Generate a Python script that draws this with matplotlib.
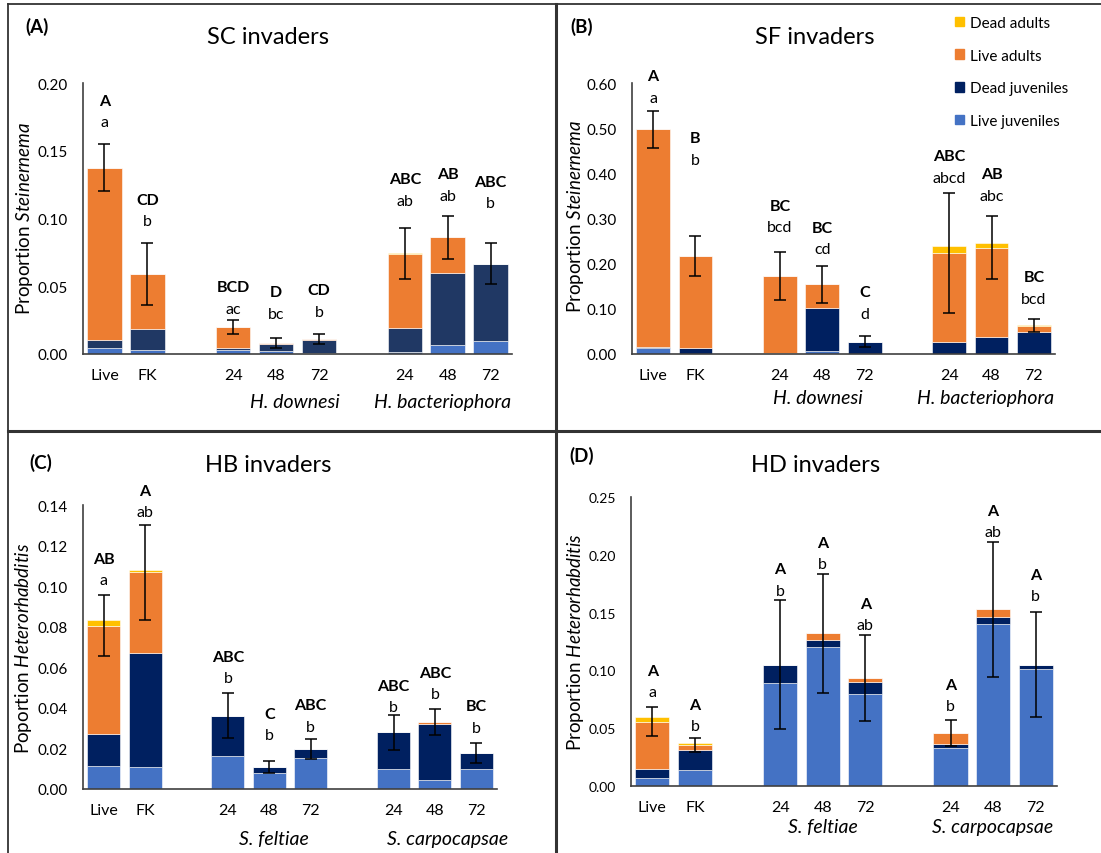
import matplotlib
matplotlib.use('Agg')
import matplotlib.pyplot as plt
from matplotlib.lines import Line2D
from matplotlib.patches import Patch
import numpy as np

plt.rcParams['font.family'] = ['Lato', 'DejaVu Sans']
plt.rcParams['mathtext.fontset'] = 'custom'
plt.rcParams['mathtext.rm'] = 'Lato'
plt.rcParams['mathtext.it'] = 'Lato:italic'

# Excel-style colours
C_LJ = '#4472C4'   # live juveniles
C_DJ = '#002060'   # dead juveniles
C_DJ_A = '#203864'
C_LA = '#ED7D31'   # live adults
C_DA = '#FFC000'   # dead adults

# categories: blanks act as spacers between treatment groups
categories = ['Live', 'FK', '', '24', '48', '72', '', '24', '48', '72']

# --- (A) SC invaders ---
sc_lj = [0.0044, 0.0032, 0.0027, 0.0022, 0.0005, 0.0015, 0.0069, 0.0098]
sc_dj = [0.0059, 0.0150, 0.0015, 0.0052, 0.0098, 0.0174, 0.0531, 0.0568]
sc_la = [0.1273, 0.0410, 0.0157, 0.0007, 0.0007, 0.0551, 0.0262, 0.0]
sc_da = [0.0, 0.0, 0.0, 0.0, 0.0, 0.0007, 0.0, 0.0]
sc_err = [0.0171, 0.0230, 0.0053, 0.0036, 0.0035, 0.0188, 0.0158, 0.0150]
sc_up = ['A', 'CD', 'BCD', 'D', 'CD', 'ABC', 'AB', 'ABC']
sc_low = ['a', 'b', 'ac', 'bc', 'b', 'ab', 'ab', 'b']
sc_lab_y = [0.171, 0.098, 0.0332, 0.0295, 0.031, 0.113, 0.1166, 0.1114]

# --- (B) SF invaders ---
sf_lj = [0.0133, 0.001, 0.001, 0.006, 0.001, 0.001, 0.001, 0.001]
sf_dj = [0.0014, 0.0115, 0.002, 0.0965, 0.0263, 0.0248, 0.0366, 0.047]
sf_la = [0.4828, 0.2042, 0.1695, 0.0515, 0.0, 0.198, 0.198, 0.0147]
sf_da = [0.0, 0.0, 0.0, 0.0, 0.0, 0.016, 0.010, 0.002]
sf_err = [0.0405, 0.045, 0.0535, 0.041, 0.0125, 0.132, 0.069, 0.014]
sf_up = ['A', 'B', 'BC', 'BC', 'C', 'ABC', 'AB', 'BC']
sf_low = ['a', 'b', 'bcd', 'cd', 'd', 'abcd', 'abc', 'bcd']
sf_lab_y = [0.567, 0.430, 0.281, 0.232, 0.0886, 0.390, 0.350, 0.122]

# --- (C) HB invaders ---
hb_lj = [0.0112, 0.011, 0.0161, 0.008, 0.0153, 0.0099, 0.0043, 0.0099]
hb_dj = [0.0157, 0.0562, 0.0200, 0.0027, 0.0044, 0.018, 0.0277, 0.0078]
hb_la = [0.0536, 0.0396, 0.0, 0.0, 0.0, 0.0, 0.0009, 0.0]
hb_da = [0.003, 0.0012, 0.0, 0.0, 0.0, 0.0, 0.0, 0.0]
hb_err = [0.0150, 0.0235, 0.0112, 0.0029, 0.0049, 0.0088, 0.0064, 0.0051]
hb_up = ['AB', 'A', 'ABC', 'C', 'ABC', 'ABC', 'ABC', 'BC']
hb_low = ['a', 'ab', 'b', 'b', 'b', 'b', 'b', 'b']
hb_lab_y = [0.103, 0.1365, 0.0547, 0.0266, 0.0306, 0.0404, 0.0468, 0.0301]

# --- (D) HD invaders ---
hd_lj = [0.0072, 0.0138, 0.0894, 0.120, 0.0793, 0.0329, 0.140, 0.101]
hd_dj = [0.0072, 0.0171, 0.0156, 0.006, 0.0104, 0.0032, 0.006, 0.004]
hd_la = [0.0413, 0.0048, 0.0, 0.006, 0.0034, 0.0095, 0.007, 0.0]
hd_da = [0.0037, 0.0018, 0.0, 0.0, 0.0005, 0.0005, 0.0, 0.0]
hd_err = [0.0127, 0.0062, 0.0555, 0.0517, 0.0373, 0.0114, 0.0584, 0.0453]
hd_up = ['A'] * 8
hd_low = ['a', 'b', 'b', 'b', 'ab', 'b', 'ab', 'b']
hd_lab_y = [0.081, 0.0516, 0.169, 0.192, 0.139, 0.069, 0.2195, 0.164]

W, H = 1101, 854


def fx(px):
    return px / W


def fy(py):
    return 1 - py / H


def draw_panel(ax, lj, dj, la, da, err, up, low, lab_y, ymax, ystep,
               groups, group_x, group_dy, dj_color=C_DJ, ysize=11, ypad=11):
    pos = np.array([i for i, c in enumerate(categories) if c])
    labels = [c for c in categories if c]
    lj, dj, la, da = map(np.array, (lj, dj, la, da))
    kw = dict(width=0.8, edgecolor='white', linewidth=0.4)
    ax.bar(pos, lj, color=C_LJ, **kw)
    ax.bar(pos, dj, bottom=lj, color=dj_color, **kw)
    ax.bar(pos, la, bottom=lj + dj, color=C_LA, **kw)
    ax.bar(pos, da, bottom=lj + dj + la, color=C_DA, **kw)
    ax.errorbar(pos, lj + dj + la, yerr=err, fmt='none', ecolor='black',
                elinewidth=1.1, capsize=4, capthick=1.1)
    for x, u, l, y in zip(pos, up, low, lab_y):
        ax.text(x, y, l, ha='center', va='center', fontsize=11.5)
        ax.annotate(u, xy=(x, y), xytext=(0, 15.5), textcoords='offset points',
                    ha='center', va='center', fontsize=11.5, fontweight='bold')
    ax.set_xlim(-0.5, len(categories) - 0.5)
    ax.set_ylim(0, ymax)
    ax.set_yticks(np.arange(0, ymax + ystep / 2, ystep))
    ax.yaxis.set_major_formatter(plt.FormatStrFormatter('%.2f'))
    ax.set_xticks(pos)
    ax.set_xticklabels(labels)
    ax.tick_params(axis='x', length=0, pad=10, labelsize=11.5)
    ax.tick_params(axis='y', length=0, pad=ypad, labelsize=ysize)
    for s in ['top', 'right']:
        ax.spines[s].set_visible(False)
    ax.spines['left'].set_color('#404040')
    ax.spines['bottom'].set_color('#404040')
    ax.spines['left'].set_linewidth(1.2)
    ax.spines['bottom'].set_linewidth(1.2)
    for g, gx in zip(groups, group_x):
        ax.annotate(g, xy=(gx, 0), xycoords=('data', 'axes fraction'),
                    xytext=(0, -group_dy), textcoords='offset points',
                    ha='center', va='center', fontsize=14, style='italic')


fig = plt.figure(figsize=(W / 100, H / 100), dpi=100)

axA = fig.add_axes([fx(83), fy(355), fx(512 - 83), (355 - 84) / H])
axB = fig.add_axes([fx(632), fy(355), fx(1055 - 632), (355 - 84) / H])
axC = fig.add_axes([fx(83), fy(790), fx(497 - 83), (790 - 506) / H])
axD = fig.add_axes([fx(631), fy(787), fx(1057 - 631), (787 - 498) / H])

hd_groups = ['H. downesi', 'H. bacteriophora']
s_groups = ['S. feltiae', 'S. carpocapsae']

draw_panel(axA, sc_lj, sc_dj, sc_la, sc_da, sc_err, sc_up, sc_low, sc_lab_y,
           0.20, 0.05, hd_groups, [4.45, 7.87], 34.5, dj_color=C_DJ_A)
draw_panel(axB, sf_lj, sf_dj, sf_la, sf_da, sf_err, sf_up, sf_low, sf_lab_y,
           0.60, 0.10, hd_groups, [3.9, 7.85], 31)
draw_panel(axC, hb_lj, hb_dj, hb_la, hb_da, hb_err, hb_up, hb_low, hb_lab_y,
           0.14, 0.02, s_groups, [4.1, 8.3], 35.5)
draw_panel(axD, hd_lj, hd_dj, hd_la, hd_da, hd_err, hd_up, hd_low, hd_lab_y,
           0.25, 0.05, s_groups, [4.0, 8.0], 29.5, ysize=10)

# y labels
fig.text(fx(25), fy(218), 'Proportion $\\mathit{Steinernema}$', rotation=90,
         ha='center', va='center', fontsize=13.5)
fig.text(fx(575), fy(216), 'Proportion $\\mathit{Steinernema}$', rotation=90,
         ha='center', va='center', fontsize=13.5)
fig.text(fx(24), fy(648), 'Poportion $\\mathit{Heterorhabditis}$', rotation=90,
         ha='center', va='center', fontsize=13.5)
fig.text(fx(575), fy(642), 'Proportion $\\mathit{Heterorhabditis}$', rotation=90,
         ha='center', va='center', fontsize=13.5)

# titles and panel letters
for x, y, t in [(268, 38, 'SC invaders'), (815, 38, 'SF invaders'),
                (268, 465, 'HB invaders'), (816, 465, 'HD invaders')]:
    fig.text(fx(x), fy(y), t, ha='center', va='center', fontsize=17)
for x, y, t in [(37, 27, '(A)'), (582, 27, '(B)'), (41, 463, '(C)'), (582, 456, '(D)')]:
    fig.text(fx(x), fy(y), t, ha='center', va='center', fontsize=13.5, fontweight='bold')

# legend
handles = [Patch(color=C_DA, label='Dead adults'),
           Patch(color=C_LA, label='Live adults'),
           Patch(color=C_DJ, label='Dead juveniles'),
           Patch(color=C_LJ, label='Live juveniles')]
fig.legend(handles=handles, loc='upper left', bbox_to_anchor=(fx(955), fy(17)),
           frameon=False, fontsize=11, handlelength=0.6, handleheight=0.6,
           handletextpad=0.4, labelspacing=1.22, borderpad=0, borderaxespad=0)

# panel frame lines
frame = '#333333'
fig.add_artist(Line2D([fx(8), 1], [fy(5), fy(5)], color=frame, lw=1.3))
fig.add_artist(Line2D([fx(8), fx(8)], [fy(5), 0], color=frame, lw=1.3))
fig.add_artist(Line2D([fx(556), fx(556)], [fy(5), 0], color=frame, lw=2.2))
fig.add_artist(Line2D([fx(8), 1], [fy(432), fy(432)], color=frame, lw=2.2))

fig.savefig('out.png', dpi=100, facecolor='white')
